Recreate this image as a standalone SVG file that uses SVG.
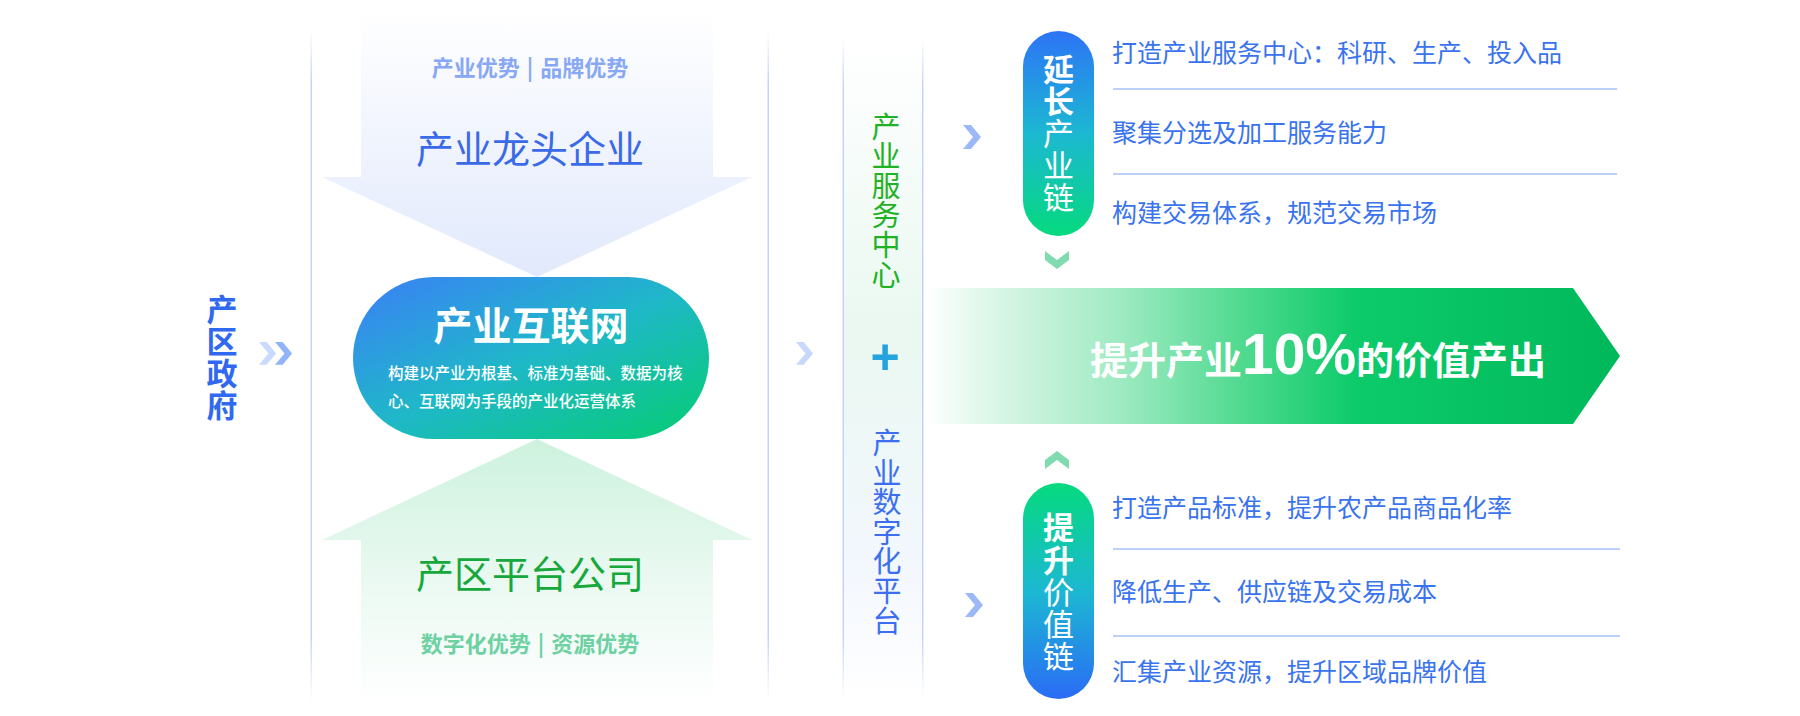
<svg xmlns="http://www.w3.org/2000/svg" width="1800" height="716" viewBox="0 0 1800 716">
<defs>
<style>
.cjk{font-family:"Noto Sans CJK SC","Noto Sans",sans-serif;}
.rt{font-size:25px;fill:#3a73ee;}
.sep{stroke:#bdd0f9;stroke-width:2;}
.vt{writing-mode:vertical-rl;}
</style>
<linearGradient id="gTop" gradientUnits="userSpaceOnUse" x1="0" y1="10" x2="0" y2="277">
<stop offset="0" stop-color="#ffffff"/><stop offset="1" stop-color="#e1e9fc"/></linearGradient>
<linearGradient id="gBot" gradientUnits="userSpaceOnUse" x1="0" y1="439" x2="0" y2="706">
<stop offset="0" stop-color="#cdf2de"/><stop offset="0.6" stop-color="#eefaf4"/><stop offset="1" stop-color="#ffffff"/></linearGradient>
<linearGradient id="gPill" x1="0" y1="0" x2="1" y2="1">
<stop offset="0" stop-color="#3b7ff7"/><stop offset="0.5" stop-color="#1fb8c8"/><stop offset="1" stop-color="#05cd70"/></linearGradient>
<linearGradient id="gP1" x1="0" y1="0" x2="0" y2="1">
<stop offset="0" stop-color="#2d74f6"/><stop offset="0.5" stop-color="#1cb8d2"/><stop offset="1" stop-color="#05da7e"/></linearGradient>
<linearGradient id="gP2" x1="0" y1="0" x2="0" y2="1">
<stop offset="0" stop-color="#05da7e"/><stop offset="0.5" stop-color="#1cb8d2"/><stop offset="1" stop-color="#2a6cf5"/></linearGradient>
<linearGradient id="gBig" gradientUnits="userSpaceOnUse" x1="924" y1="0" x2="1620" y2="0">
<stop offset="0" stop-color="#ffffff"/><stop offset="0.117" stop-color="#d5f5e3"/><stop offset="0.284" stop-color="#9eeac2"/><stop offset="0.452" stop-color="#52da91"/><stop offset="0.619" stop-color="#0dcb6a"/><stop offset="1" stop-color="#00b85a"/></linearGradient>
<linearGradient id="gVLine" x1="0" y1="0" x2="0" y2="1">
<stop offset="0" stop-color="#c4d3f7" stop-opacity="0"/><stop offset="0.08" stop-color="#c4d3f7"/><stop offset="0.9" stop-color="#c4d3f7"/><stop offset="1" stop-color="#c4d3f7" stop-opacity="0"/></linearGradient>
<linearGradient id="gBand" x1="0" y1="0" x2="0" y2="1">
<stop offset="0" stop-color="#ffffff"/><stop offset="0.45" stop-color="#eaf8f1"/><stop offset="0.8" stop-color="#f3f7fe"/><stop offset="1" stop-color="#ffffff"/></linearGradient>
<path id="chev" d="M0 0H8L18 12L8 24H0L10 12Z"/>
</defs>

<g id="dividers">
<rect x="310.5" y="30" width="1.5" height="672" fill="url(#gVLine)"/>
<rect x="767.5" y="30" width="1.5" height="672" fill="url(#gVLine)"/>
</g>

<g id="gov">
<text class="cjk vt" x="222" y="293.5" font-size="31" letter-spacing="1" font-weight="bold" fill="#3168f0">产区政府</text>
</g>

<g id="connectors">
<use href="#chev" transform="translate(259,342) scale(0.95)" fill="#c9dafc"/>
<use href="#chev" transform="translate(275,342) scale(0.95)" fill="#93b3f8"/>
<use href="#chev" transform="translate(796,342) scale(0.95)" fill="#c8d8fc"/>
<use href="#chev" transform="translate(963,125)" fill="#9db8f8"/>
<use href="#chev" transform="translate(965,593)" fill="#9db8f8"/>
<path d="M1045 251L1057 260L1069 251V260L1057 269L1045 260Z" fill="#80dbb0"/>
<path d="M1045 460L1057 451L1069 460V469L1057 460L1045 469Z" fill="#80dbb0"/>
</g>

<g id="leader">
<path d="M361 10H713V177H752L537 277L322 177H361Z" fill="url(#gTop)"/>
<text class="cjk" x="530" y="76" text-anchor="middle" font-size="22" font-weight="bold" fill="#88a8f5">产业优势<tspan dx="7">|</tspan><tspan dx="7">品牌优势</tspan></text>
<text class="cjk" x="530" y="163" text-anchor="middle" font-size="38" fill="#3a6ae8">产业龙头企业</text>
</g>

<g id="platform">
<path d="M537 439L752 540H713V706H361V540H322Z" fill="url(#gBot)"/>
<text class="cjk" x="530" y="588" text-anchor="middle" font-size="38" fill="#17a83c">产区平台公司</text>
<text class="cjk" x="530" y="652" text-anchor="middle" font-size="22" font-weight="bold" fill="#6dd1a2">数字化优势<tspan dx="7">|</tspan><tspan dx="7">资源优势</tspan></text>
</g>

<g id="internet">
<rect x="353" y="277" width="356" height="162" rx="81" fill="url(#gPill)"/>
<text class="cjk" x="531" y="340" text-anchor="middle" font-size="39" font-weight="bold" fill="#ffffff">产业互联网</text>
<text class="cjk" x="388" y="379" font-size="15.5" font-weight="500" fill="#ffffff">构建以产业为根基、标准为基础、数据为核</text>
<text class="cjk" x="388" y="407" font-size="15.5" font-weight="500" fill="#ffffff">心、互联网为手段的产业化运营体系</text>
</g>

<g id="band">
<rect x="843" y="37" width="80" height="662" fill="url(#gBand)"/>
<rect x="842.5" y="37" width="1.5" height="662" fill="url(#gVLine)"/>
<rect x="922" y="37" width="1.5" height="662" fill="url(#gVLine)"/>
<text class="cjk vt" x="886" y="112" font-size="29" letter-spacing="0.6" fill="#1fb224">产业服务中心</text>
<text x="885" y="374" text-anchor="middle" font-family="Liberation Sans, sans-serif" font-size="50" font-weight="bold" fill="#25a3dc">+</text>
<text class="cjk vt" x="887" y="428.5" font-size="29" letter-spacing="0.6" fill="#3c6ff0">产业数字化平台</text>
</g>

<g id="result">
<path d="M924 288H1573L1620 356L1573 424H924Z" fill="url(#gBig)"/>
<text class="cjk" x="1090" y="374" font-size="38" font-weight="bold" fill="#ffffff">提升产业<tspan font-family="Liberation Sans, sans-serif" font-size="57">10%</tspan>的价值产出</text>
</g>

<g id="extend">
<rect x="1023" y="31" width="71" height="205" rx="35.5" fill="url(#gP1)"/>
<text class="cjk vt" x="1058.5" y="53.5" font-size="31" letter-spacing="1" fill="#ffffff"><tspan font-weight="bold">延长</tspan>产业链</text>
<text class="cjk rt" x="1112" y="61.5">打造产业服务中心：科研、生产、投入品</text>
<line class="sep" x1="1113" y1="89" x2="1617" y2="89"/>
<text class="cjk rt" x="1112" y="141.5">聚集分选及加工服务能力</text>
<line class="sep" x1="1113" y1="174" x2="1617" y2="174"/>
<text class="cjk rt" x="1112" y="221.5">构建交易体系，规范交易市场</text>
</g>

<g id="value">
<rect x="1023" y="483" width="71" height="216" rx="35.5" fill="url(#gP2)"/>
<text class="cjk vt" x="1058.5" y="512" font-size="31" letter-spacing="1.25" fill="#ffffff"><tspan font-weight="bold">提升</tspan>价值链</text>
<text class="cjk rt" x="1112" y="516.5">打造产品标准，提升农产品商品化率</text>
<line class="sep" x1="1113" y1="549" x2="1620" y2="549"/>
<text class="cjk rt" x="1112" y="600.5">降低生产、供应链及交易成本</text>
<line class="sep" x1="1113" y1="636" x2="1620" y2="636"/>
<text class="cjk rt" x="1112" y="680.5">汇集产业资源，提升区域品牌价值</text>
</g>
</svg>
